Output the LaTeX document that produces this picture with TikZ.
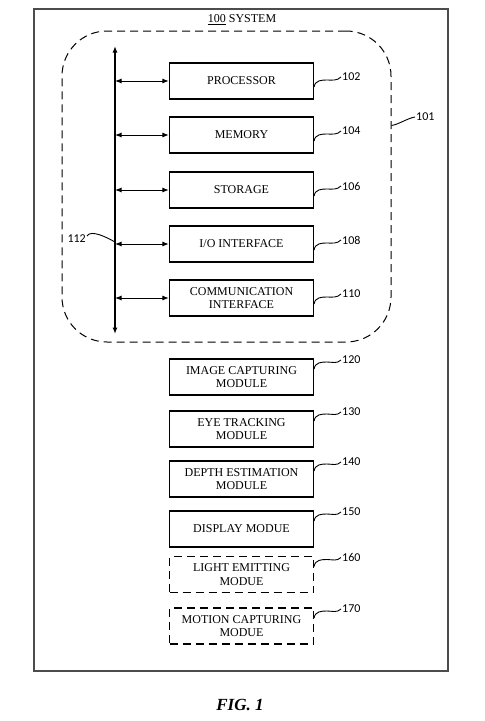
\documentclass[tikz,border=0pt]{standalone}
\usepackage{fontspec}
\setmainfont{Liberation Serif}
\newfontfamily\numfont{Carlito}
\usetikzlibrary{arrows.meta}

\begin{document}
\begin{tikzpicture}[x=1pt, y=-1pt, >={Latex[length=6.5pt,width=5pt]}]

\def\width{485}
\def\height{721}
\def\busx{115}
\def\boxx{241.5}
\def\numx{341}

\path [use as bounding box] (0,0) rectangle (\width,\height);

\tikzset{
	unit/.style={draw, line width=1.2pt, minimum width=144pt, minimum height=36pt,
		align=center, font=\fontsize{12}{13.5}\selectfont},
	optunit/.style={unit, dash pattern=on 8pt off 5pt},
	refnum/.style={font=\numfont\fontsize{12}{12}\selectfont, anchor=west, inner sep=1pt},
	wavy/.style={line width=0.9pt}
}

% Function: reference wave
% #1 : unit node
% #2 : y offset of the start on the east side
% #3 : label node
\newcommand{\refwave}[3]{%
	\draw [wavy] (#1.east) ++(0,#2)
		.. controls +(1,-7) and +(-5,0) .. ++(13,-7)
		.. controls +(5,0) and +(-4,4) .. (#3.west)%
}

% FRAME
\draw [line width=1.4pt, black!70] (34,9) rectangle (448,671);
\node [font=\fontsize{12}{12}\selectfont] (title) at (242,20) {\underline{100} SYSTEM};

% GROUP
\node [draw, line width=1pt, dash pattern=on 8pt off 5pt, rounded corners=45pt,
	minimum width=329pt, minimum height=311pt] (grp) at (226.5,186.5) {};
\node [refnum] (n101) at (415,117) {101};
\draw [wavy] (grp.east) ++(0,-61) .. controls +(7,-1) and +(-7,1) .. (n101.west);

% BUS
\coordinate (bustop) at (\busx,46);
\coordinate (busbot) at (\busx,334);
\draw [<->, line width=1.4pt] (bustop) -- (busbot);
\node [refnum, anchor=east] (n112) at (87,239) {112};
\coordinate (tap) at (\busx,242);
\draw [wavy] (n112.east) ++(0,-3) .. controls +(4,-7) and +(-7,-4) .. (tap);

% UNITS
\foreach \name/\y/\num/\txt in {proc/81/102/PROCESSOR, mem/135/104/MEMORY,
	stor/190/106/STORAGE, io/244/108/{I/O INTERFACE},
	comm/298/110/{COMMUNICATION\\INTERFACE}} {
	\node [unit] (\name) at (\boxx,\y) {\txt};
	\draw [<->, line width=1pt] (\name.west -| bustop) -- (\name.west);
	\node [refnum] (n\num) at (\numx,\y-4) {\num};
	\refwave{\name}{6}{n\num};
}

% MODULES
\foreach \name/\y/\num/\txt in {img/377/120/{IMAGE CAPTURING\\MODULE},
	eye/429/130/{EYE TRACKING\\MODULE}, dep/479/140/{DEPTH ESTIMATION\\MODULE},
	disp/529/150/{DISPLAY MODUE}} {
	\node [unit] (\name) at (\boxx,\y) {\txt};
	\node [refnum] (n\num) at (\numx,\y-17) {\num};
	\refwave{\name}{-8}{n\num};
}
\foreach \name/\y/\num/\txt in {light/574.5/160/{LIGHT EMITTING\\MODUE},
	motion/626/170/{MOTION CAPTURING\\MODUE}} {
	\node [optunit] (\name) at (\boxx,\y) {\txt};
	\node [refnum] (n\num) at (\numx,\y-17) {\num};
	\refwave{\name}{-8}{n\num};
}

% CAPTION
\node [font=\fontsize{17}{17}\selectfont\bfseries\itshape] (fig) at (240,705) {FIG. 1};

\end{tikzpicture}
\end{document}
